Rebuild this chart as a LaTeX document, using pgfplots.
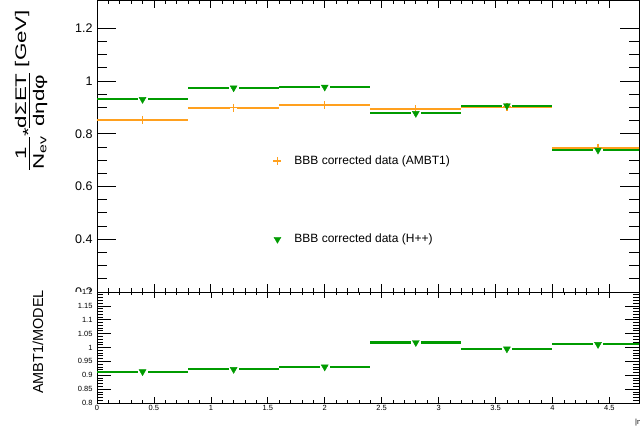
\documentclass[border=0pt]{standalone}
\usepackage{pgfplots}
\usepackage{pgfplotstable}
\pgfplotsset{compat=1.18}
\usepackage{fontspec}
\setmainfont{Liberation Sans}
\newfontfamily\labfont[FakeStretch=1.45]{Liberation Sans}
\definecolor{rootorange}{RGB}{255,160,30}
\definecolor{rootgreen}{RGB}{0,155,0}
\newcommand{\rfrac}[2]{\vtop{\halign{\hfil##\hfil\cr #1\cr\noalign{\kern3pt\hrule height 1.3pt\kern2.5pt}\rule{0pt}{11pt}#2\cr}}}

\pgfplotstableread{
x y
0.0 0.852
0.8 0.899
1.6 0.909
2.4 0.894
3.2 0.901
4.0 0.747
4.8 0.747
}\ambt
\pgfplotstableread{
x y
0.0 0.930
0.8 0.974
1.6 0.977
2.4 0.877
3.2 0.906
4.0 0.738
4.8 0.738
}\hpp
\pgfplotstableread{
x y
0.0 0.913
0.8 0.921
1.6 0.930
2.4 1.018
3.2 0.995
4.0 1.011
4.8 1.011
}\ratio

\begin{document}
\begin{tikzpicture}
\useasboundingbox (0,0) rectangle (640pt,433pt);
\begin{axis}[
  at={(97pt,141pt)}, anchor=south west, scale only axis,
  width=542pt, height=291.5pt,
  xmin=0, xmax=4.76, ymin=0.2, ymax=1.305,
  clip mode=individual,
  xtick={0,0.5,1,1.5,2,2.5,3,3.5,4,4.5}, xticklabels={},
  minor x tick num=4,
  ytick={0.2,0.4,0.6,0.8,1,1.2}, minor y tick num=3,
  yticklabel style={font=\fontsize{12.5}{14}\selectfont, /pgf/number format/assume math mode=true, xshift=-1pt},
  axis line style={line width=0.8pt},
  tick style={black, line width=0.8pt},
  xtick style={/pgfplots/major tick length=8pt,/pgfplots/minor tick length=4pt},
  ytick style={/pgfplots/major tick length=19pt,/pgfplots/minor tick length=10pt},
  legend style={draw=none, fill=none, at={(axis cs:1.548,0.548)}, anchor=west,
    inner sep=0pt, row sep=64pt, column sep=11pt, font=\fontsize{12}{14}\selectfont},
  legend cell align=left,
]
\addplot[draw=rootorange, line width=2.1pt, jump mark left, mark=none, forget plot] table[x=x,y=y] {\ambt};
\addplot[draw=rootgreen, line width=2.1pt, jump mark left, mark=none, forget plot] table[x=x,y=y] {\hpp};
\addplot[white, only marks, mark=-, mark size=3.5pt, mark options={line width=2.8pt}, forget plot, restrict x to domain=0:4.6]
  table[x expr=\thisrow{x}+0.4,y=y] {\ambt};
\addplot[white, only marks, mark=-, mark size=5pt, mark options={line width=2.8pt}, forget plot, restrict x to domain=0:4.6]
  table[x expr=\thisrow{x}+0.4,y=y] {\hpp};
\addplot[rootorange, only marks, mark=+, mark size=4pt, mark options={line width=1.2pt}, restrict x to domain=0:4.6]
  table[x expr=\thisrow{x}+0.4,y=y] {\ambt};
\addlegendentry{BBB corrected data (AMBT1)}
\addplot[rootgreen, only marks, mark=triangle*, mark size=4pt, mark options={fill=rootgreen, rotate=180}, restrict x to domain=0:4.6]
  table[x expr=\thisrow{x}+0.4,y=y] {\hpp};
\addlegendentry{BBB corrected data (H++)}
\end{axis}
\fill[white] (0,0) rectangle (640pt,140.6pt);
\begin{axis}[
  at={(97pt,30pt)}, anchor=south west, scale only axis,
  width=542pt, height=111pt,
  xmin=0, xmax=4.76, ymin=0.8, ymax=1.2,
  clip mode=individual,
  xtick={0,0.5,1,1.5,2,2.5,3,3.5,4,4.5},
  xticklabels={0,0.5,1,1.5,2,2.5,3,3.5,4,4.5},
  minor x tick num=4,
  ytick={0.8,0.85,0.9,0.95,1,1.05,1.1,1.15,1.2},
  yticklabels={0.8,0.85,0.9,0.95,1,1.05,1.1,1.15,1.2},
  minor y tick num=4,
  yticklabel style={font=\fontsize{7.5}{9}\selectfont, xshift=-1pt},
  xticklabel style={font=\fontsize{7.5}{9}\selectfont, yshift=1pt},
  axis line style={line width=0.8pt},
  tick style={black, line width=0.7pt},
  xtick style={/pgfplots/major tick length=6pt,/pgfplots/minor tick length=3pt},
  ytick style={/pgfplots/major tick length=14pt,/pgfplots/minor tick length=6pt},
]
\addplot[draw=rootgreen, line width=2.1pt, jump mark left, mark=none] table[x=x,y=y] {\ratio};
\addplot[white, only marks, mark=-, mark size=5pt, mark options={line width=2.8pt}, restrict x to domain=0:4.6]
  table[x expr=\thisrow{x}+0.4,y=y] {\ratio};
\addplot[rootgreen, only marks, mark=triangle*, mark size=4pt, mark options={fill=rootgreen, rotate=180}, restrict x to domain=0:4.6]
  table[x expr=\thisrow{x}+0.4,y=y] {\ratio};
\end{axis}
\node[rotate=90, anchor=base west, inner sep=0pt, font=\labfont\fontsize{15.4}{18}\selectfont] at (26pt,263pt)
  {\rfrac{1}{N\raisebox{-2.5pt}{\fontsize{11}{12}\selectfont ev}}\raisebox{-0.5em}{*}\rfrac{dΣET}{dηdφ} [GeV]};
\node[rotate=90, inner sep=0pt, font=\fontsize{14.5}{16}\selectfont] at (38pt,91pt) {AMBT1/MODEL};
\node[anchor=west, inner sep=0pt, font=\fontsize{7.5}{9}\selectfont] at (635pt,10pt) {|η|};
\end{tikzpicture}
\end{document}
